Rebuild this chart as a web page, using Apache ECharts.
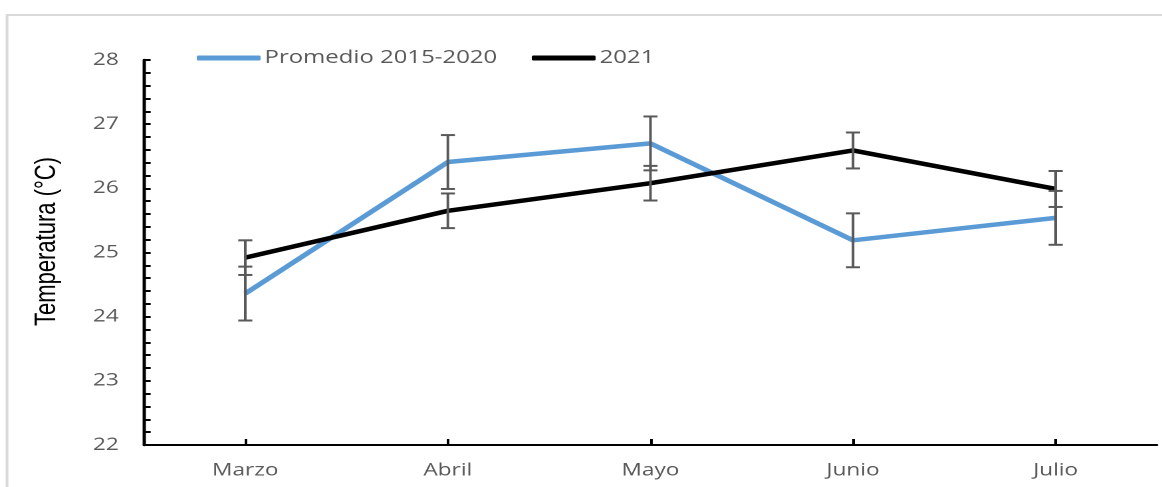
<!DOCTYPE html>
<html><head><meta charset="utf-8">
<script src="https://cdn.jsdelivr.net/npm/echarts@6/dist/echarts.min.js"></script>
<style>
html,body{margin:0;padding:0;background:#fff;overflow:hidden}
#wrap{width:1162px;height:487px;overflow:hidden}
#c{width:874px;height:487px;transform:scaleX(1.3295);transform-origin:0 0}
</style>
</head><body><div id="wrap"><div id="c"></div></div>
<script>
const categories = ['Marzo', 'Abril', 'Mayo', 'Junio', 'Julio'];
const promedio = [24.36, 26.41, 26.70, 25.19, 25.54];
const promedioErr = [0.42, 0.42, 0.42, 0.42, 0.42];
const y2021 = [24.92, 25.65, 26.08, 26.59, 25.99];
const y2021Err = [0.27, 0.27, 0.27, 0.28, 0.28];
const yTicks = [22, 23, 24, 25, 26, 27, 28];

function errData(vals, errs) {
  return vals.map((v, i) => [i, v - errs[i], v + errs[i]]);
}
function errRender(params, api) {
  const x = api.value(0);
  const lo = api.coord([x, api.value(1)]);
  const hi = api.coord([x, api.value(2)]);
  const hw = 5.3;
  const st = { stroke: '#595959', lineWidth: 2, fill: null };
  return { type: 'group', children: [
    { type: 'line', shape: { x1: lo[0], y1: lo[1], x2: hi[0], y2: hi[1] }, style: st },
    { type: 'line', shape: { x1: lo[0] - hw, y1: lo[1], x2: lo[0] + hw, y2: lo[1] }, style: st },
    { type: 'line', shape: { x1: hi[0] - hw, y1: hi[1], x2: hi[0] + hw, y2: hi[1] }, style: st }
  ]};
}
const chart = echarts.init(document.getElementById('c'), null, { renderer: 'canvas', devicePixelRatio: 2 });
chart.setOption({
  animation: false,
  backgroundColor: '#fff',
  graphic: [{ type: 'rect', shape: { x: 5.3, y: 15, width: 900, height: 490 },
    style: { fill: null, stroke: '#d9d9d9', lineWidth: 2 }, z: -1 }],
  legend: {
    data: ['Promedio 2015-2020', '2021'],
    left: 143, top: 44,
    icon: 'roundRect', itemWidth: 48, itemHeight: 5, itemGap: 26,
    textStyle: { fontFamily: 'Open Sans', fontSize: 18, color: '#595959', padding: [0, 0, 0, -2] }
  },
  grid: { left: 108.3, right: 3.8, top: 60, bottom: 42 },
  xAxis: {
    type: 'category', data: categories, boundaryGap: true,
    axisLine: { lineStyle: { color: '#000', width: 2 } },
    axisTick: { show: true, inside: true, alignWithLabel: true, length: 6, lineStyle: { color: '#000', width: 2 } },
    axisLabel: { fontFamily: 'Open Sans', fontSize: 17, color: '#595959', margin: 17 }
  },
  yAxis: {
    type: 'value', min: yTicks[0], max: yTicks[yTicks.length - 1], interval: 1,
    name: 'Temperatura (°C)', nameLocation: 'middle', nameGap: 62, nameRotate: 90,
    nameTextStyle: { fontFamily: 'Liberation Sans', fontSize: 22, color: '#000', padding: [0, 0, 0, 22] },
    axisLine: { show: true, lineStyle: { color: '#000', width: 2.5 } },
    axisTick: { show: true, inside: true, length: 5, lineStyle: { color: '#000', width: 2 } },
    minorTick: { show: true, splitNumber: 5, length: 5, lineStyle: { color: '#000', width: 2 } },
    splitLine: { show: false },
    axisLabel: { fontFamily: 'Open Sans', fontSize: 17, color: '#595959', margin: 19 }
  },
  series: [
    { type: 'custom', name: 'errP', renderItem: errRender, data: errData(promedio, promedioErr), z: 3, silent: true },
    { type: 'custom', name: 'err21', renderItem: errRender, data: errData(y2021, y2021Err), z: 3, silent: true },
    { type: 'line', name: 'Promedio 2015-2020', data: promedio, showSymbol: false, symbol: 'none',
      lineStyle: { color: '#5B9BD5', width: 4.5 }, itemStyle: { color: '#5B9BD5' }, z: 2 },
    { type: 'line', name: '2021', data: y2021, showSymbol: false, symbol: 'none',
      lineStyle: { color: '#000', width: 4.5 }, itemStyle: { color: '#000' }, z: 2 }
  ]
});
</script></body></html>
